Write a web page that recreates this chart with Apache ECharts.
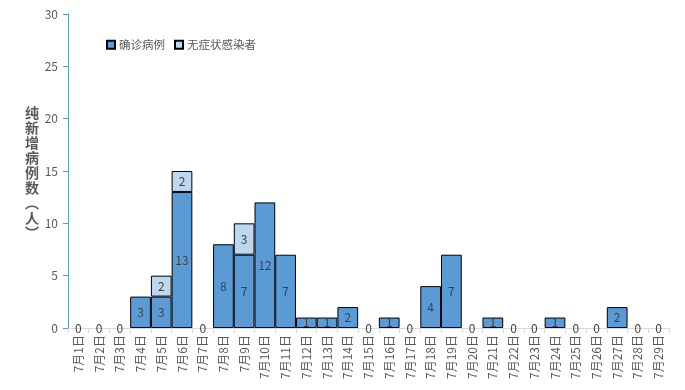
<!DOCTYPE html>
<html>
<head>
<meta charset="utf-8">
<script src="https://cdn.jsdelivr.net/npm/echarts@6/dist/echarts.min.js"></script>
<style>html,body{margin:0;padding:0;background:#fff;}#c{width:685px;height:390px;}</style>
</head>
<body>
<div id="c"></div>
<script>
const categories = ['7月1日','7月2日','7月3日','7月4日','7月5日','7月6日','7月7日','7月8日','7月9日','7月10日','7月11日','7月12日','7月13日','7月14日','7月15日','7月16日','7月17日','7月18日','7月19日','7月20日','7月21日','7月22日','7月23日','7月24日','7月25日','7月26日','7月27日','7月28日','7月29日'];
const confirmed = [0,0,0,3,3,13,0,8,7,12,7,1,1,2,0,1,0,4,7,0,1,0,0,1,0,0,2,0,0];
const asymptomatic = [0,0,0,0,2,2,0,0,3,0,0,0,0,0,0,0,0,0,0,0,0,0,0,0,0,0,0,0,0];
const yTicks = [0,5,10,15,20,25,30];
const yName = '纯新增病例数︵人︶';

const font = 'Noto Sans CJK SC';
const confirmedData = confirmed.map(v => v === 0 ? {value: 0, itemStyle: {borderWidth: 0}} : v);
const asymData = asymptomatic.map(v => v === 0 ? '-' : v);

const chart = echarts.init(document.getElementById('c'));
chart.setOption({
  animation: false,
  textStyle: {fontFamily: font},
  grid: {left: 68, right: 16, top: 14, bottom: 62},
  legend: {
    left: 106, top: 39, padding: 0,
    icon: 'rect',
    itemWidth: 8, itemHeight: 8, itemGap: 9,
    textStyle: {color: '#595959', fontSize: 11.5, fontFamily: font, padding: [0,0,0,-1]},
    data: ['确诊病例', '无症状感染者']
  },
  graphic: [{
    type: 'text', left: 25, top: 105,
    style: {text: yName.split('').join('\n'), font: 'bold 14px "Noto Sans CJK SC"', fill: '#595959', lineHeight: 15}
  }],
  xAxis: {
    type: 'category', data: categories,
    axisLine: {lineStyle: {color: '#d9d9d9'}},
    axisTick: {show: true, alignWithLabel: false, length: 5, lineStyle: {color: '#d9d9d9'}},
    axisLabel: {rotate: 90, interval: 0, color: '#595959', fontSize: 12, margin: 7, fontFamily: font}
  },
  yAxis: {
    type: 'value', min: yTicks[0], max: yTicks[yTicks.length-1], interval: 5,
    splitLine: {show: false},
    axisLine: {show: true, lineStyle: {color: '#5B9BD5'}},
    axisTick: {show: true, length: 5, lineStyle: {color: '#5B9BD5'}},
    axisLabel: {color: '#595959', fontSize: 12, margin: 10, fontFamily: font}
  },
  series: [{
    name: '确诊病例', type: 'bar', stack: 'a', data: confirmedData,
    barCategoryGap: '0%',
    itemStyle: {color: '#5B9BD5', borderColor: '#000', borderWidth: 1},
    label: {show: true, position: 'inside', color: '#404040', fontSize: 12, fontFamily: font}
  }, {
    name: '无症状感染者', type: 'bar', stack: 'a', data: asymData,
    barCategoryGap: '0%',
    itemStyle: {color: '#BDD7EE', borderColor: '#000', borderWidth: 1},
    label: {show: true, position: 'inside', color: '#404040', fontSize: 12, fontFamily: font}
  }]
});
</script>
</body>
</html>
